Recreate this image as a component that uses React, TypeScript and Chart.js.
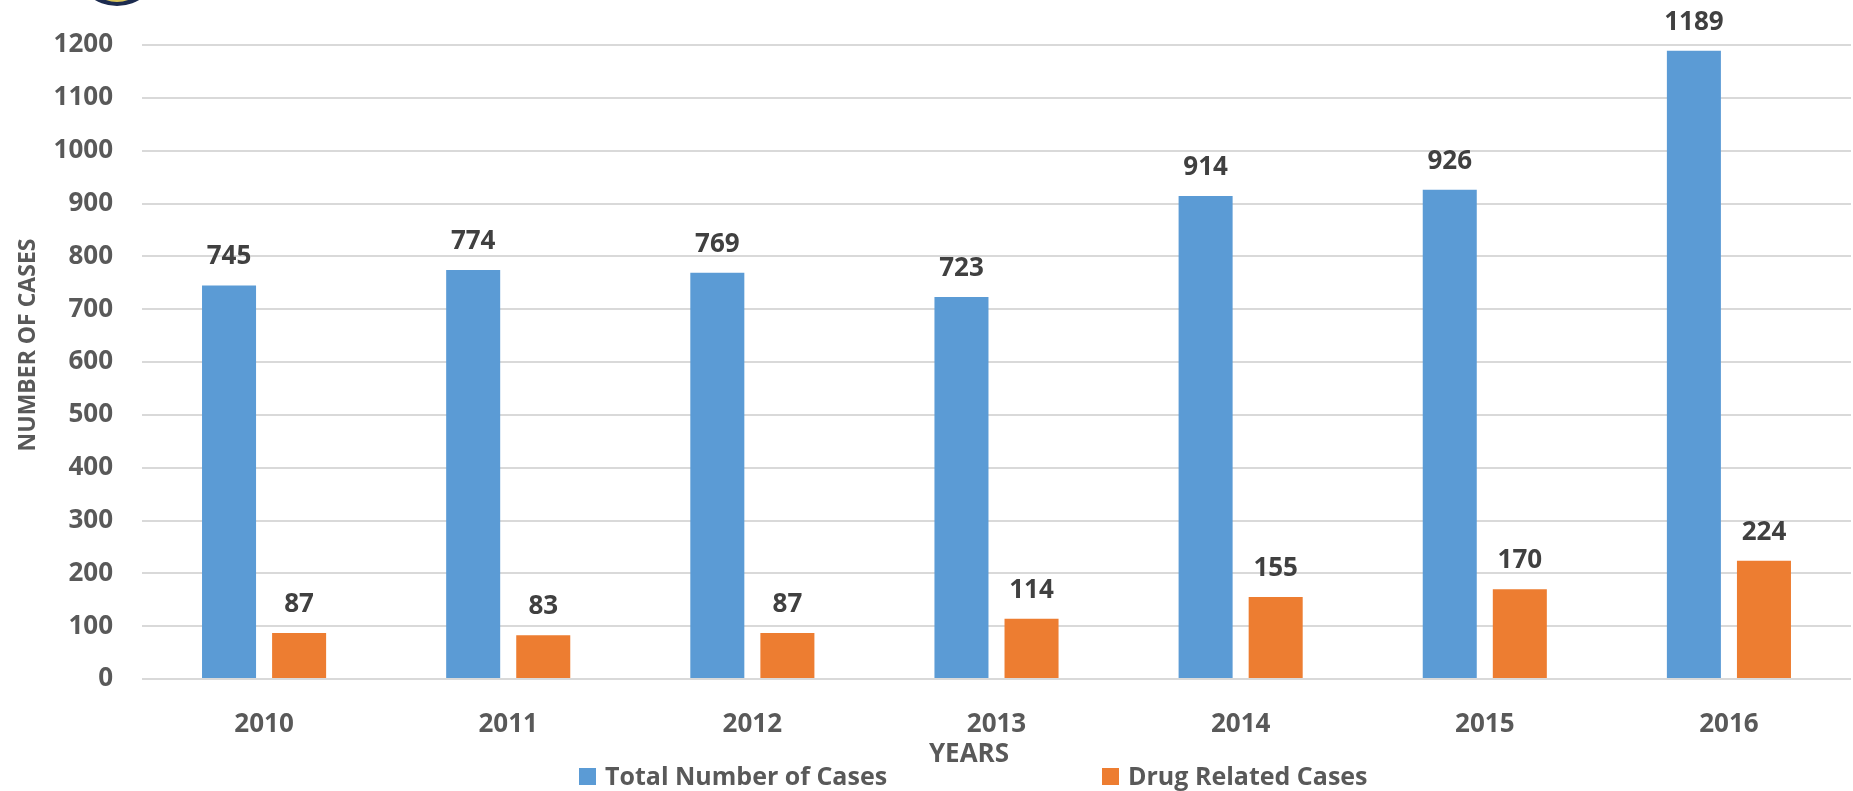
import React, { useEffect, useRef } from "react";
import { Chart, registerables } from "chart.js";

Chart.register(...registerables);

const categories = ["2010", "2011", "2012", "2013", "2014", "2015", "2016"];
const totalCases = [745, 774, 769, 723, 914, 926, 1189];
const drugCases = [87, 83, 87, 114, 155, 170, 224];
const seriesNames = ["Total Number of Cases", "Drug Related Cases"];
const yMin = 0;
const yMax = 1200;
const yStep = 100;
const xTitle = "YEARS";
const yTitle = "NUMBER OF CASES";

const FONT = "'Open Sans', sans-serif";
const BLUE = "#5B9BD5";
const ORANGE = "#ED7D31";
const TICK = "#595959";
const LABEL = "#404040";

const W = 1853;
const H = 791;

const overlay = {
  id: "overlay",
  afterDatasetsDraw(chart: any) {
    const ctx = chart.ctx;
    ctx.save();
    ctx.font = `bold 26px ${FONT}`;
    ctx.fillStyle = LABEL;
    ctx.textAlign = "center";
    ctx.textBaseline = "alphabetic";
    chart.data.datasets.forEach((ds: any, i: number) => {
      const meta = chart.getDatasetMeta(i);
      meta.data.forEach((el: any, j: number) => {
        ctx.fillText(String(ds.data[j]), el.x, el.y - 21);
      });
    });
    ctx.restore();
  },
  afterDraw(chart: any) {
    const ctx = chart.ctx;
    ctx.save();
    // partial logo at top-left
    ctx.beginPath();
    ctx.ellipse(117, -30, 40, 36, 0, 0, Math.PI * 2);
    ctx.fillStyle = "#1c2b4f";
    ctx.fill();
    ctx.beginPath();
    ctx.ellipse(117, -32, 33, 34, 0, 0, Math.PI * 2);
    ctx.fillStyle = "#d9c45a";
    ctx.fill();

    // y title
    ctx.fillStyle = TICK;
    ctx.font = `bold 23px ${FONT}`;
    ctx.textAlign = "center";
    ctx.textBaseline = "middle";
    ctx.save();
    ctx.translate(28, 345);
    ctx.rotate(-Math.PI / 2);
    ctx.fillText(yTitle, 0, 0);
    ctx.restore();

    // x title
    ctx.font = `bold 26px ${FONT}`;
    ctx.textBaseline = "alphabetic";
    ctx.fillText(xTitle, 969, 762);

    // legend
    const items = [
      { text: seriesNames[0], color: BLUE, box: 579, textX: 605 },
      { text: seriesNames[1], color: ORANGE, box: 1102, textX: 1128 },
    ];
    ctx.textAlign = "left";
    ctx.font = `bold 25px ${FONT}`;
    items.forEach((it) => {
      ctx.fillStyle = it.color;
      ctx.fillRect(it.box, 768, 17, 17);
      ctx.fillStyle = TICK;
      ctx.fillText(it.text, it.textX, 785);
    });
    ctx.restore();
  },
};

export default function App() {
  const ref = useRef<HTMLCanvasElement>(null);
  useEffect(() => {
    document.body.style.margin = "0";
    const canvas = ref.current!;
    const chart = new Chart(canvas, {
      type: "bar",
      data: {
        labels: categories,
        datasets: [
          {
            label: seriesNames[0],
            data: totalCases,
            backgroundColor: BLUE,
            categoryPercentage: 0.574,
            barPercentage: 0.771,
            clip: false as any,
          },
          {
            label: seriesNames[1],
            data: drugCases,
            backgroundColor: ORANGE,
            categoryPercentage: 0.574,
            barPercentage: 0.771,
            clip: false as any,
          },
        ],
      },
      options: {
        responsive: false,
        animation: false,
        devicePixelRatio: 1,
        layout: { padding: { top: 45, right: 2, left: 0, bottom: 0 } },
        plugins: {
          legend: { display: false },
          tooltip: { enabled: false },
        },
        scales: {
          x: {
            grid: { display: false },
            border: { display: false },
            ticks: {
              color: TICK,
              font: { family: FONT, size: 26, weight: "bold" },
              padding: 22,
              maxRotation: 0,
            },
            afterFit: (scale: any) => {
              scale.height = 112;
            },
          },
          y: {
            min: yMin,
            max: yMax,
            grid: { color: "#D9D9D9", lineWidth: 2, drawTicks: false },
            border: { display: false },
            ticks: {
              stepSize: yStep,
              color: TICK,
              font: { family: FONT, size: 26, weight: "bold" },
              padding: 29,
              callback: (v: any) => String(v),
            },
            afterFit: (scale: any) => {
              scale.width = 142;
            },
          },
        },
      },
      plugins: [overlay],
    });
    return () => chart.destroy();
  }, []);
  return (
    <div style={{ width: W, height: H }}>
      <canvas ref={ref} width={W} height={H} style={{ display: "block" }} />
    </div>
  );
}
